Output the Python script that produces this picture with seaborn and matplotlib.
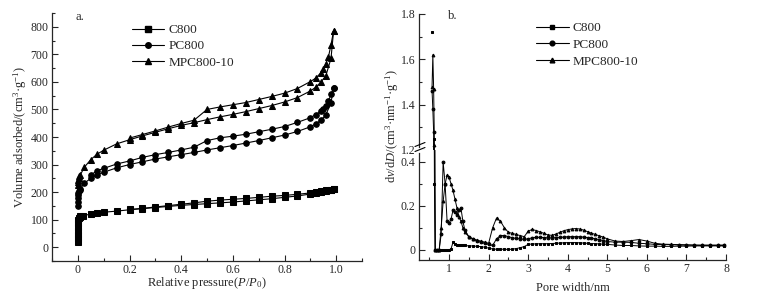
import numpy as np
import pandas as pd
import seaborn as sns
import matplotlib.pyplot as plt
from matplotlib.lines import Line2D
from matplotlib.ticker import MultipleLocator, FixedLocator

# ---- isotherm data (left panel) ----
p_c800_ads = [0.0, 0.0, 0.0, 0.0, 0.0005, 0.001, 0.002, 0.004, 0.007, 0.01, 0.02, 0.05, 0.075, 0.1, 0.15,
              0.2, 0.25, 0.3, 0.35, 0.4, 0.45, 0.5, 0.55, 0.6, 0.65, 0.7, 0.75, 0.8, 0.85, 0.9, 0.92,
              0.94, 0.96, 0.98, 0.99]
v_c800_ads = [20, 32, 45, 60, 75, 88, 98, 105, 109, 112, 115, 120, 123, 127, 131, 136, 140, 144, 148, 152,
              155, 158, 161, 164, 168, 172, 176, 181, 186, 193, 196, 199, 203, 207, 210]
p_c800_des = [0.99, 0.98, 0.96, 0.94, 0.92, 0.9, 0.85, 0.8, 0.75, 0.7, 0.65, 0.6, 0.55, 0.5, 0.45, 0.4,
              0.35, 0.3, 0.25, 0.2]
v_c800_des = [212, 209, 206, 203, 200, 197, 192, 188, 185, 181, 177, 174, 171, 167, 161, 156, 151, 146,
              141, 137]

p_pc800_ads = [0.0, 0.0, 0.0005, 0.001, 0.002, 0.004, 0.007, 0.01, 0.025, 0.05, 0.075, 0.1, 0.15, 0.2,
               0.25, 0.3, 0.35, 0.4, 0.45, 0.5, 0.55, 0.6, 0.65, 0.7, 0.75, 0.8, 0.85, 0.9, 0.92, 0.94,
               0.96, 0.98, 0.99]
v_pc800_ads = [150, 165, 178, 188, 196, 203, 208, 213, 232, 250, 262, 272, 288, 300, 310, 320, 328, 336,
               344, 353, 361, 369, 378, 387, 397, 407, 420, 437, 447, 460, 480, 525, 578]
p_pc800_des = [0.99, 0.98, 0.97, 0.96, 0.95, 0.94, 0.92, 0.9, 0.85, 0.8, 0.75, 0.7, 0.65, 0.6, 0.55, 0.5,
               0.45, 0.4, 0.35, 0.3, 0.25, 0.2, 0.15, 0.1, 0.075, 0.05]
v_pc800_des = [578, 555, 530, 512, 502, 493, 481, 470, 453, 438, 428, 419, 410, 403, 397, 387, 363, 353,
               344, 336, 326, 313, 302, 286, 278, 262]

p_mpc_ads = [0.0, 0.0005, 0.001, 0.003, 0.006, 0.01, 0.025, 0.05, 0.075, 0.1, 0.15, 0.2, 0.25, 0.3, 0.35,
             0.4, 0.45, 0.5, 0.55, 0.6, 0.65, 0.7, 0.75, 0.8, 0.85, 0.9, 0.92, 0.94, 0.96, 0.98, 0.99]
v_mpc_ads = [225, 238, 245, 252, 258, 263, 290, 318, 338, 352, 375, 390, 404, 417, 430, 442, 452, 463, 473,
             482, 492, 503, 514, 527, 543, 567, 580, 598, 622, 685, 785]
p_mpc_des = [0.99, 0.98, 0.97, 0.96, 0.95, 0.94, 0.92, 0.9, 0.85, 0.8, 0.75, 0.7, 0.65, 0.6, 0.55, 0.5,
             0.45, 0.4, 0.35, 0.3, 0.25, 0.2]
v_mpc_des = [785, 735, 690, 665, 645, 632, 613, 601, 576, 559, 547, 536, 525, 517, 509, 500, 461, 449,
             436, 422, 409, 396]

# ---- pore size distribution (right panel) ----
pore_w = [0.57, 0.59, 0.61, 0.63, 0.65, 0.7, 0.75, 0.8, 0.85, 0.9, 0.95, 1.0, 1.05, 1.1, 1.15, 1.2, 1.25,
          1.3, 1.35, 1.4, 1.5, 1.6, 1.7, 1.8, 1.9, 2.0, 2.1, 2.2, 2.3, 2.4, 2.5, 2.6, 2.7, 2.8, 2.9, 3.0,
          3.1, 3.2, 3.3, 3.4, 3.5, 3.6, 3.7, 3.8, 3.9, 4.0, 4.1, 4.2, 4.3, 4.4, 4.5, 4.6, 4.7, 4.8, 4.9,
          5.0, 5.2, 5.4, 5.6, 5.8, 6.0, 6.2, 6.4, 6.6, 6.8, 7.0, 7.2, 7.4, 7.6, 7.8, 7.95]
psd_c800 = [1.72, np.nan, 1.25, 0.3, 0.0, 0.0, 0.0, 0.0, 0.0, 0.0, 0.0, 0.0, 0.005, 0.035, 0.028, 0.022,
            0.02, 0.02, 0.02, 0.02, 0.018, 0.018, 0.016, 0.015, 0.012, 0.008, 0.004, 0.003, 0.003, 0.003,
            0.002, 0.003, 0.006, 0.01, 0.015, 0.025, 0.027, 0.027, 0.028, 0.028, 0.028, 0.029, 0.03,
            0.031, 0.032, 0.033, 0.033, 0.033, 0.032, 0.031, 0.03, 0.029, 0.028, 0.027, 0.026, 0.025,
            0.022, 0.02, 0.02, 0.018, 0.017, 0.017, 0.016, 0.016, 0.017, 0.017, 0.018, 0.018, 0.018,
            0.018, 0.018]
psd_pc800 = [1.46, 1.38, 1.28, 0.6, 0.0, 0.0, 0.0, 0.07, 0.4, 0.3, 0.13, 0.12, 0.14, 0.18, 0.17, 0.16,
             0.18, 0.19, 0.13, 0.09, 0.06, 0.05, 0.04, 0.035, 0.03, 0.025, 0.02, 0.05, 0.065, 0.065, 0.06,
             0.055, 0.052, 0.05, 0.048, 0.05, 0.055, 0.057, 0.057, 0.056, 0.055, 0.055, 0.056, 0.057,
             0.058, 0.06, 0.06, 0.06, 0.06, 0.058, 0.056, 0.054, 0.05, 0.046, 0.042, 0.038, 0.035, 0.035,
             0.034, 0.03, 0.028, 0.025, 0.024, 0.024, 0.022, 0.022, 0.021, 0.02, 0.02, 0.02, 0.02]
psd_mpc = [1.48, 1.62, 1.47, 1.22, 0.0, 0.0, 0.0, 0.1, 0.22, 0.3, 0.34, 0.33, 0.3, 0.27, 0.23, 0.19, 0.15,
           0.13, 0.1, 0.08, 0.06, 0.05, 0.045, 0.04, 0.035, 0.03, 0.1, 0.145, 0.13, 0.1, 0.08, 0.075, 0.07,
           0.065, 0.06, 0.085, 0.093, 0.088, 0.082, 0.075, 0.068, 0.066, 0.072, 0.08, 0.087, 0.092, 0.095,
           0.097, 0.095, 0.09, 0.083, 0.076, 0.07, 0.064, 0.058, 0.05, 0.04, 0.038, 0.042, 0.047, 0.04,
           0.03, 0.026, 0.025, 0.024, 0.023, 0.022, 0.022, 0.022, 0.022, 0.022]

names = ["C800", "PC800", "MPC800-10"]
markers = ["s", "o", "^"]

sns.set_style("ticks")
plt.rcParams["font.family"] = ["Liberation Serif", "DejaVu Serif"]
plt.rcParams["mathtext.fontset"] = "custom"
plt.rcParams["mathtext.rm"] = "Liberation Serif"
plt.rcParams["mathtext.it"] = "Liberation Serif:italic"
plt.rcParams["font.size"] = 8.5

fig = plt.figure(figsize=(7.62, 3.04), dpi=100)
W, H = 762, 304
axL = fig.add_axes([52 / W, 1 - 261 / H, 310 / W, 248 / H])
axU = fig.add_axes([419 / W, 1 - 150 / H, 307 / W, 136 / H])
axD = fig.add_axes([419 / W, 1 - 260 / H, 307 / W, 110 / H])

# left: isotherms (adsorption + desorption branch per sample)
iso = [(p_c800_ads, v_c800_ads, p_c800_des, v_c800_des),
       (p_pc800_ads, v_pc800_ads, p_pc800_des, v_pc800_des),
       (p_mpc_ads, v_mpc_ads, p_mpc_des, v_mpc_des)]
for (pa, va, pd_, vd), m in zip(iso, markers):
    for px, vy in [(pa, va), (pd_, vd)]:
        sns.lineplot(x=px, y=vy, ax=axL, color="k", marker=m, markersize=4.0, markeredgecolor="k",
                     linewidth=0.8, sort=False, estimator=None)

axL.set_xlim(-0.1, 1.1)
axL.set_ylim(-50, 850)
axL.xaxis.set_major_locator(FixedLocator([0, 0.2, 0.4, 0.6, 0.8, 1.0]))
axL.set_xticklabels(["0", "0.2", "0.4", "0.6", "0.8", "1.0"])
axL.xaxis.set_minor_locator(MultipleLocator(0.1))
axL.yaxis.set_major_locator(FixedLocator(range(0, 801, 100)))
axL.yaxis.set_minor_locator(MultipleLocator(50))
axL.set_xlabel("Relative pressure($P$/$P_0$)", labelpad=-1, fontsize=9)
axL.set_ylabel("Volume adsorbed/(cm$^{3}$·g$^{-1}$)", labelpad=1, fontsize=9)
axL.text(75 / W, 1 - 17 / H, "a.", transform=fig.transFigure, va="center", fontsize=9)

# right: PSD with broken y axis
psd = pd.DataFrame({"w": pore_w * 3,
                    "val": psd_c800 + psd_pc800 + psd_mpc,
                    "sample": np.repeat(names, len(pore_w))})
psd["seg"] = psd["val"].isna().cumsum()
psd = psd.dropna()
for ax in (axU, axD):
    for name, m in zip(names, markers):
        d = psd[psd["sample"] == name]
        sns.lineplot(data=d, x="w", y="val", units="seg", estimator=None, ax=ax, color="k", marker=m,
                     markersize=2.0, markeredgecolor="k", linewidth=0.7, sort=False)
    ax.set_xlim(0.24, 8.0)
    ax.set_xlabel("")
    ax.set_ylabel("")
    ax.xaxis.set_major_locator(FixedLocator(range(1, 9)))
    ax.xaxis.set_minor_locator(MultipleLocator(0.5))

axU.set_ylim(1.2, 1.8)
axU.yaxis.set_major_locator(FixedLocator([1.2, 1.4, 1.6, 1.8]))
axU.set_yticklabels(["1.2", "1.4", "1.6", "1.8"])
axU.yaxis.set_minor_locator(MultipleLocator(0.1))
axU.spines["bottom"].set_visible(False)
axU.tick_params(axis="x", which="both", bottom=False, labelbottom=False)
axU.spines["left"].set_bounds(1.215, 1.8)

axD.set_ylim(-0.046, 0.454)
axD.yaxis.set_major_locator(FixedLocator([0, 0.2, 0.4]))
axD.set_yticklabels(["0", "0.2", "0.4"])
axD.yaxis.set_minor_locator(MultipleLocator(0.1))
axD.spines["left"].set_bounds(-0.046, 0.44)
axD.set_xlabel("Pore width/nm", labelpad=5, fontsize=9)

# break marks on the left spine
for x0, y0 in [(415, 146.5), (415, 151.5)]:
    fig.add_artist(Line2D([x0 / W, (x0 + 10) / W], [1 - y0 / H, 1 - (y0 - 4) / H], color="k",
                          linewidth=0.8, transform=fig.transFigure))
fig.text(392 / W, 1 - 126 / H, "d$v$/d$D$/(cm$^{3}$·nm$^{-1}$·g$^{-1}$)", rotation=90,
         ha="center", va="center", fontsize=9)
axU.text(448 / W, 1 - 16 / H, "b.", transform=fig.transFigure, va="center", fontsize=9)

for ax in (axL, axU, axD):
    for s in ("top", "right"):
        ax.spines[s].set_visible(False)
    for s in ("left", "bottom"):
        ax.spines[s].set_linewidth(0.9)
    ax.tick_params(which="major", direction="in", length=4, width=0.8, pad=2.5, labelsize=8.5)
    ax.tick_params(which="minor", direction="in", length=2.2, width=0.8)

# legends
handles = [Line2D([], [], color="k", marker=m, markersize=4.0, linewidth=0.8) for m in markers]
axL.legend(handles, names, loc="upper left", bbox_to_anchor=(132 / W, 1 - 24 / H),
           bbox_transform=fig.transFigure, frameon=False, borderpad=0, borderaxespad=0,
           handlelength=2.4, handletextpad=0.4, labelspacing=0.3, fontsize=9.5)
handles_r = [Line2D([], [], color="k", marker=m, markersize=3.4, linewidth=0.8) for m in markers]
axU.legend(handles_r, names, loc="upper left", bbox_to_anchor=(536 / W, 1 - 22 / H),
           bbox_transform=fig.transFigure, frameon=False, borderpad=0, borderaxespad=0,
           handlelength=2.5, handletextpad=0.3, labelspacing=0.35, fontsize=9.5)

fig.savefig("out.png", dpi=100)
